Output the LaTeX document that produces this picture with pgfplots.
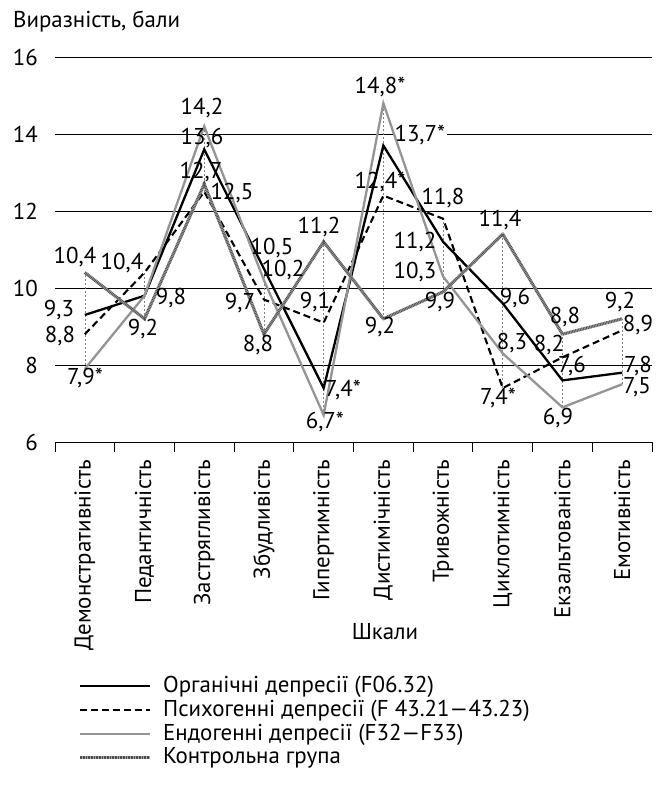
\documentclass[border=0pt]{standalone}
\usepackage{fontspec}
\setmainfont{PT Sans}
\usepackage{pgfplots}
\pgfplotsset{compat=1.18}
\tikzset{lbl/.style={inner sep=0pt}}
\begin{document}
\fontsize{23}{27}\selectfont
\begin{tikzpicture}
\path[use as bounding box] (0,0) rectangle (662bp,792bp);
\begin{axis}[
  at={(55bp,350bp)}, anchor=south west,
  scale only axis, width=597bp, height=385bp,
  xmin=-0.5, xmax=9.5, ymin=6, ymax=16,
  clip=false,
  axis lines*=left,
  y axis line style={draw=none},
  x axis line style={line width=0.9bp, -},
  xtick={0,...,9},
  xticklabels={Демонстративність,Педантичність,Застрягливість,Збудливість,Гипертимність,Дистимічність,Тривожність,Циклотимність,Екзальтованість,Емотивність},
  minor xtick={-0.5,0.5,...,9.5},
  major tick length=0pt, minor tick length=10bp, tick align=outside,
  minor tick style={black, line width=0.9bp},
  ytick={6,8,...,16},
  ymajorgrids, grid style={black, line width=0.9bp},
  tick label style={inner sep=0pt},
  x tick label style={rotate=90, anchor=east},
  xticklabel shift=18bp,
  yticklabel shift=17bp,
  /pgf/number format/assume math mode=true,
  legend style={at={(axis description cs:0.0385,-0.603)}, anchor=north west, draw=none, fill=none,
    cells={anchor=west}, row sep=0bp, column sep=10bp, inner sep=0pt},
  legend image code/.code={\draw[#1] (0bp,0bp) -- (70bp,0bp);},
]
% label with white background (drawn first so it only hides the grid line)
\node[lbl, fill=white, inner xsep=2bp, anchor=west] at (axis cs:5.15,13.97) {13,7*};
% high-low lines
\addplot[forget plot, gray, line width=0.6bp, dash pattern=on 2bp off 2bp, unbounded coords=jump] coordinates {
 (0,7.9) (0,10.4) (0,nan)
 (1,9.2) (1,10.4) (1,nan)
 (2,12.5) (2,14.2) (2,nan)
 (3,8.8) (3,10.5) (3,nan)
 (4,6.7) (4,11.2) (4,nan)
 (5,9.2) (5,14.8) (5,nan)
 (6,9.9) (6,11.8) (6,nan)
 (7,7.4) (7,11.4) (7,nan)
 (8,6.9) (8,8.8) (8,nan)
 (9,7.5) (9,9.2)
};
% Organic
\addplot[black, line width=2.3bp] coordinates {
 (0,9.3) (1,9.8) (2,13.6) (3,10.5) (4,7.4) (5,13.7) (6,11.2) (7,9.6) (8,7.6) (9,7.8)};
\addlegendentry{Органічні депресії (F06.32)}
% Psychogenic
\addplot[black, line width=2.1bp, dash pattern=on 7bp off 4bp] coordinates {
 (0,8.8) (1,10.4) (2,12.5) (3,9.7) (4,9.1) (5,12.4) (6,11.8) (7,7.4) (8,8.2) (9,8.9)};
\addlegendentry{Психогенні депресії (F 43.21—43.23)}
% Endogenous
\addplot[black!42, line width=2.3bp] coordinates {
 (0,7.9) (1,9.8) (2,14.2) (3,10.2) (4,6.7) (5,14.8) (6,10.3) (7,8.3) (8,6.9) (9,7.5)};
\addlegendentry{Ендогенні депресії (F32—F33)}
% Control
\addplot[black!35, line width=3bp, postaction={draw, black!70, line width=3bp, dash pattern=on 0.7bp off 0.9bp}] coordinates {
 (0,10.4) (1,9.2) (2,12.7) (3,8.8) (4,11.2) (5,9.2) (6,9.9) (7,11.4) (8,8.8) (9,9.2)};
\addlegendentry{Контрольна група}
% data labels
\node[lbl] at (axis cs:-0.165,10.81) {10,4};
\node[lbl] at (axis cs:0.622,10.65) {10,4};
\node[lbl] at (axis cs:1.962,14.68) {14,2};
\node[lbl] at (axis cs:1.962,13.90) {13,6};
\node[lbl] at (axis cs:1.946,13.01) {12,7};
\node[lbl] at (axis cs:2.465,12.47) {12,5};
\node[lbl] at (axis cs:3.922,11.58) {11,2};
\node[lbl] at (axis cs:3.135,11.04) {10,5};
\node[lbl] at (axis cs:3.319,10.47) {10,2};
\node[lbl] at (axis cs:1.443,9.74) {9,8};
\node[lbl] at (axis cs:-0.433,9.43) {9,3};
\node[lbl] at (axis cs:0.974,8.94) {9,2};
\node[lbl] at (axis cs:-0.416,8.75) {8,8};
\node[lbl] at (axis cs:0.003,7.66) {7,9*};
\node[lbl] at (axis cs:2.599,9.61) {9,7};
\node[lbl] at (axis cs:2.90,8.52) {8,8};
\node[lbl] at (axis cs:3.855,9.64) {9,1};
\node[lbl] at (axis cs:4.324,7.35) {7,4*};
\node[lbl] at (axis cs:4.02,6.52) {6,7*};
\node[lbl] at (axis cs:4.944,15.22) {14,8*};
\node[lbl] at (axis cs:4.944,12.75) {12,4*};
\node[lbl] at (axis cs:6.00,12.34) {11,8};
\node[lbl] at (axis cs:5.53,11.19) {11,2};
\node[lbl] at (axis cs:5.53,10.42) {10,3};
\node[lbl] at (axis cs:5.949,9.64) {9,9};
\node[lbl] at (axis cs:4.944,8.99) {9,2};
\node[lbl] at (axis cs:6.954,11.77) {11,4};
\node[lbl] at (axis cs:7.205,9.74) {9,6};
\node[lbl] at (axis cs:7.155,8.57) {8,3};
\node[lbl] at (axis cs:8.043,9.25) {8,8};
\node[lbl] at (axis cs:7.775,8.52) {8,2};
\node[lbl] at (axis cs:8.16,7.97) {7,6};
\node[lbl] at (axis cs:8.964,9.64) {9,2};
\node[lbl] at (axis cs:9.266,9.04) {8,9};
\node[lbl] at (axis cs:9.266,7.97) {7,8};
\node[lbl] at (axis cs:6.92,7.14) {7,4*};
\node[lbl] at (axis cs:7.925,6.62) {6,9};
\node[lbl] at (axis cs:9.249,7.43) {7,5};
\end{axis}
\node[anchor=base west, inner sep=0pt] at (13bp,764bp) {Виразність, бали};
\node[inner sep=0pt] at (385bp,160bp) {Шкали};
\end{tikzpicture}
\end{document}
